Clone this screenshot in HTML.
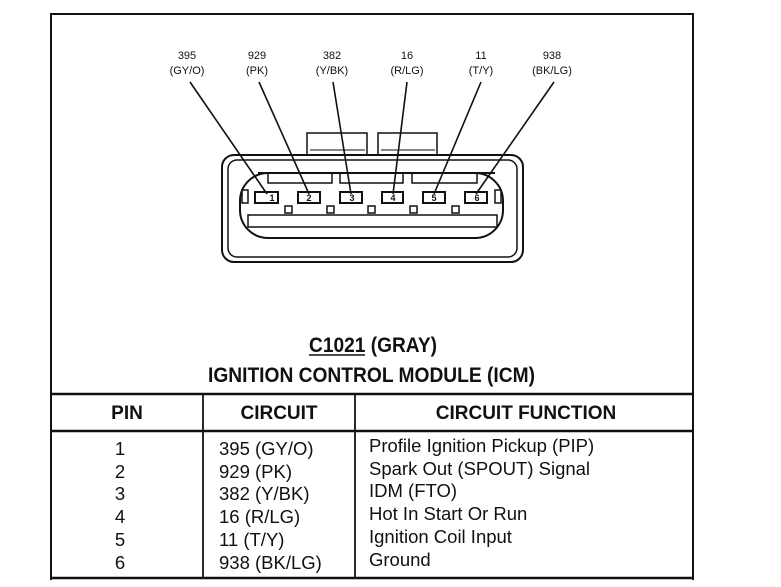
<!DOCTYPE html>
<html><head><meta charset="utf-8"><style>
html,body{margin:0;padding:0;background:#fff;}
body{width:781px;height:587px;overflow:hidden;}
svg{display:block;}
text{font-family:"Liberation Sans",Arial,sans-serif;fill:#111;}
</style></head><body>
<svg width="781" height="587" viewBox="0 0 781 587" xmlns="http://www.w3.org/2000/svg">
<!-- frame -->
<path d="M51 580 V14 H693 V580" fill="none" stroke="#111" stroke-width="2"/>
<!-- wire labels -->
<g font-size="11" text-anchor="middle">
<text x="187" y="59">395</text><text x="187" y="74">(GY/O)</text>
<text x="257" y="59">929</text><text x="257" y="74">(PK)</text>
<text x="332" y="59">382</text><text x="332" y="74">(Y/BK)</text>
<text x="407" y="59">16</text><text x="407" y="74">(R/LG)</text>
<text x="481" y="59">11</text><text x="481" y="74">(T/Y)</text>
<text x="552" y="59">938</text><text x="552" y="74">(BK/LG)</text>
</g>
<!-- connector -->
<g fill="none" stroke="#111" stroke-width="1.5">
<rect x="307" y="133" width="60" height="24" fill="#fff"/>
<line x1="310" y1="150" x2="365" y2="150" stroke-width="1"/>
<rect x="378" y="133" width="59" height="24" fill="#fff"/>
<line x1="381" y1="150" x2="435" y2="150" stroke-width="1"/>
<rect x="222" y="155" width="301" height="107" rx="12" fill="#fff" stroke-width="2"/>
<rect x="228" y="160" width="289" height="97" rx="9"/>
<rect x="240" y="173" width="263" height="65" rx="28" stroke-width="2"/>
<line x1="258" y1="173" x2="495" y2="173" stroke-width="2"/>
<rect x="268" y="173" width="64" height="10"/>
<rect x="340" y="173" width="63" height="10"/>
<rect x="412" y="173" width="65" height="10"/>
<rect x="242" y="190" width="6" height="13"/>
<rect x="495" y="190" width="6" height="13"/>
<rect x="255" y="192" width="23" height="11" stroke-width="2"/>
<rect x="298" y="192" width="22" height="11" stroke-width="2"/>
<rect x="340" y="192" width="22" height="11" stroke-width="2"/>
<rect x="382" y="192" width="21" height="11" stroke-width="2"/>
<rect x="423" y="192" width="22" height="11" stroke-width="2"/>
<rect x="465" y="192" width="22" height="11" stroke-width="2"/>
<rect x="285" y="206" width="7" height="7"/>
<rect x="327" y="206" width="7" height="7"/>
<rect x="368" y="206" width="7" height="7"/>
<rect x="410" y="206" width="7" height="7"/>
<rect x="452" y="206" width="7" height="7"/>
<rect x="248" y="215" width="249" height="12"/>
</g>
<g font-size="9" text-anchor="middle" font-weight="bold">
<text x="272" y="201">1</text><text x="309" y="201">2</text><text x="352" y="201">3</text>
<text x="393" y="201">4</text><text x="434" y="201">5</text><text x="477" y="201">6</text>
</g>
<!-- leader lines -->
<g stroke="#111" stroke-width="1.6">
<line x1="190" y1="82" x2="267" y2="194"/>
<line x1="259" y1="82" x2="309" y2="194"/>
<line x1="333" y1="82" x2="351" y2="194"/>
<line x1="407" y1="82" x2="393" y2="194"/>
<line x1="481" y1="82" x2="434" y2="194"/>
<line x1="554" y1="82" x2="476" y2="194"/>
</g>
<!-- titles -->
<text x="309" y="352" font-size="21" font-weight="bold" textLength="128" lengthAdjust="spacingAndGlyphs">C1021 (GRAY)</text>
<line x1="309" y1="355" x2="365" y2="355" stroke="#111" stroke-width="1.5"/>
<text x="208" y="382" font-size="21" font-weight="bold" textLength="327" lengthAdjust="spacingAndGlyphs">IGNITION CONTROL MODULE (ICM)</text>
<!-- table -->
<g stroke="#111" stroke-width="2.5">
<line x1="51" y1="394" x2="693" y2="394"/>
<line x1="51" y1="431" x2="693" y2="431"/>
<line x1="51" y1="578" x2="693" y2="578"/>
</g>
<g stroke="#111" stroke-width="1.8">
<line x1="203" y1="394" x2="203" y2="578"/>
<line x1="355" y1="394" x2="355" y2="578"/>
</g>
<g font-size="19" font-weight="bold" text-anchor="middle">
<text x="127" y="419">PIN</text><text x="279" y="419">CIRCUIT</text><text x="526" y="419">CIRCUIT FUNCTION</text>
</g>
<g font-size="18.5">
<g text-anchor="middle">
<text x="120" y="455">1</text><text x="120" y="478">2</text><text x="120" y="500">3</text>
<text x="120" y="523">4</text><text x="120" y="546">5</text><text x="120" y="569">6</text>
</g>
<text x="219" y="455">395 (GY/O)</text>
<text x="219" y="478">929 (PK)</text>
<text x="219" y="500">382 (Y/BK)</text>
<text x="219" y="523">16 (R/LG)</text>
<text x="219" y="546">11 (T/Y)</text>
<text x="219" y="569">938 (BK/LG)</text>
<text x="369" y="452">Profile Ignition Pickup (PIP)</text>
<text x="369" y="475">Spark Out (SPOUT) Signal</text>
<text x="369" y="497">IDM (FTO)</text>
<text x="369" y="520">Hot In Start Or Run</text>
<text x="369" y="543">Ignition Coil Input</text>
<text x="369" y="566">Ground</text>
</g>
</svg>
</body></html>
